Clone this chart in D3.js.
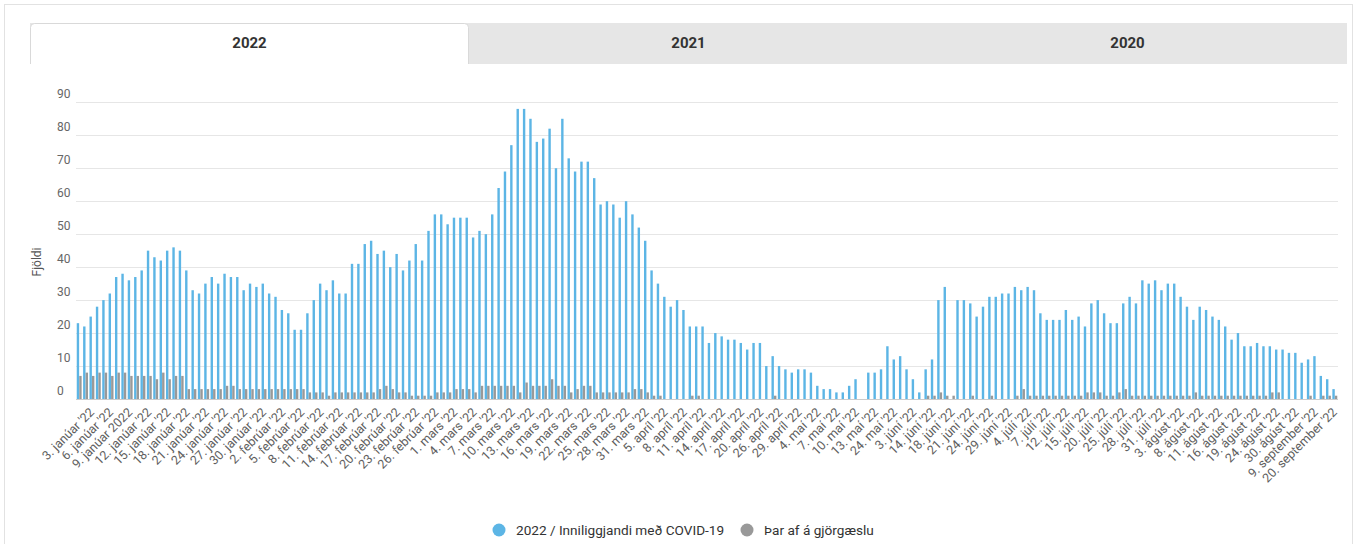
<!DOCTYPE html>
<html>
<head>
<meta charset="utf-8">
<script src="https://cdn.jsdelivr.net/npm/d3@7/dist/d3.min.js"></script>
<style>
  html, body { margin: 0; padding: 0; background: #fff; }
  svg { display: block; font-family: Roboto, "Noto Sans", sans-serif; }
</style>
</head>
<body>
<svg id="chart" width="1357" height="544"></svg>
<script>
// tabs shown above the chart
const tabs = ['2022', '2021', '2020'];
const seriesNames = ['2022 / Inniliggjandi með COVID-19', 'Þar af á gjörgæslu'];
const seriesColors = ['#5cb5e5', '#999999'];

// inpatients per day (null = no value that day)
const inpatients = [
  23, 22, 25, 28, 30, 32, 37, 38, 36, 37, 39, 45, 43, 42, 45, 46, 45,
  39, 33, 32, 35, 37, 35, 38, 37, 37, 33, 35, 34, 35, 32, 31, 27, 26, 21, 21,
  26, 30, 35, 33, 36, 32, 32, 41, 41, 47, 48, 44,
  45, 40, 44, 39, 42, 47, 42, 51, 56, 56, 53, 55, 55, 55, 49, 51, 50, 56, 64, 69,
  77, 88, 88, 85, 78, 79, 82, 70, 85, 73, 69, 72, 72, 67, 59, 60, 59, 55, 60, 56,
  52, 48, 39, 35, 31, 28, 30, 27, 22, 22, 22,
  17, 20, 19, 18, 18, 17, 15, 17, 17, 10, 13, 10, 9, 8, 9, 9, 8, 4, 3, 3,
  2, 2, 4, 6, null, 8, 8, 9, 16, 12, 13, 9, 6, 2, 9, 12, 30, 34, null, 30,
  30, 29, 25, 28, 31, 31, 32, 32, 34, 33, 34,
  33, 26, 24, 24, 24, 27, 24, 25, 22, 29, 30, 26, 23, 23, 29, 31, 29, 36, 35, 36,
  33, 35, 35, 31, 28, 24, 28, 27, 25, 24, 22, 18, 20, 16, 16, 17, 16, 16, 15, 15,
  14, 14, 11, 12, 13, 7, 6, 3
];

// of which in intensive care
const icu = [
  7, 8, 7, 8, 8, 7, 8, 8, 7, 7, 7, 7, 6, 8, 6, 7, 7,
  3, 3, 3, 3, 3, 3, 4, 4, 3, 3, 3, 3, 3, 3, 3, 3, 3, 3, 3,
  2, 2, 2, 1, 2, 2, 2, 2, 2, 2, 2, 3,
  4, 3, 2, 2, 1, 1, 1, 1, 2, 2, 2, 3, 3, 3, 2, 4, 4, 4,
  4, 4, 4, 2, 5, 4, 4, 4, 6, 4, 4, 2, 3, 4, 4, 2, 2, 2,
  2, 2, 2, 3, 3, 2, 1, 1, 0, 0, 0, 0, 1, 1, 0,
  0, 0, 0, 0, 0, 0, 0, 0, 0, 0, 1, 0, 0, 0, 0, 0, 0, 0, 0, 0,
  0, 0, 0, 0, 0, 0, 0, 0, 0, 0, 0, 0, 0, 0, 1, 1, 2, 1, 1, 0,
  0, 1, 0, 0, 1, 0, 0, 0, 1, 3, 1,
  1, 1, 1, 1, 1, 1, 1, 1, 2, 2, 2, 1, 1, 2, 3, 1, 1, 1, 1, 1,
  1, 1, 1, 1, 1, 2, 1, 1, 1, 1, 1, 1, 1, 1, 1, 1, 1, 2, 2, 0,
  0, 0, 0, 1, 0, 1, 1, 1
];

// one label every third day
const tickLabels = [
  "3. janúar '22", "6. janúar '22", '9. janúar 2022', "12. janúar '22", "15. janúar '22",
  "18. janúar '22", "21. janúar '22", "24. janúar '22", "27. janúar '22", "30. janúar '22",
  "2. febrúar '22", "5. febrúar '22", "8. febrúar '22", "11. febrúar '22", "14. febrúar '22",
  "17. febrúar '22", "20. febrúar '22", "23. febrúar '22", "26. febrúar '22",
  "1. mars '22", "4. mars '22", "7. mars '22", "10. mars '22", "13. mars '22", "16. mars '22",
  "19. mars '22", "22. mars '22", "25. mars '22", "28. mars '22", "31. mars '22",
  "5. apríl '22", "8. apríl '22", "11. apríl '22", "14. apríl '22", "17. apríl '22",
  "20. apríl '22", "26. apríl '22", "29. apríl '22",
  "4. maí '22", "7. maí '22", "10. maí '22", "13. maí '22", "24. maí '22",
  "3. júní '22", "14. júní '22", "18. júní '22", "21. júní '22", "24. júní '22", "29. júní '22",
  "4. júlí '22", "7. júlí '22", "12. júlí '22", "15. júlí '22", "20. júlí '22", "25. júlí '22",
  "28. júlí '22", "31. júlí '22",
  "3. ágúst '22", "8. ágúst '22", "11. ágúst '22", "16. ágúst '22", "19. ágúst '22",
  "24. ágúst '22", "30. ágúst '22",
  "9. september '22", "20. september '22"
];

const yTicks = [0, 10, 20, 30, 40, 50, 60, 70, 80, 90];

const svg = d3.select('#chart');

// card + tabs
svg.append('rect')
  .attr('x', 4.5).attr('y', 4.5).attr('width', 1348).attr('height', 560)
  .attr('fill', '#fff').attr('stroke', '#e2e2e2');

const tabX = d3.scaleBand().domain(tabs).range([30, 1347]);
svg.append('rect')
  .attr('x', 30).attr('y', 23).attr('width', 1317).attr('height', 41)
  .attr('fill', '#e6e6e6');

const t0 = tabX(tabs[0]), tw = tabX.bandwidth();
svg.append('path')
  .attr('d', `M${t0 + 0.5},64 V27.5 Q${t0 + 0.5},23.5 ${t0 + 4.5},23.5 H${t0 + tw - 4.5} Q${t0 + tw - 0.5},23.5 ${t0 + tw - 0.5},27.5 V64`)
  .attr('fill', '#fff').attr('stroke', '#d9d9d9');

svg.append('g').selectAll('text')
  .data(tabs)
  .join('text')
  .attr('x', d => tabX(d) + tw / 2)
  .attr('y', 48)
  .attr('text-anchor', 'middle')
  .attr('font-size', 15)
  .attr('font-weight', 'bold')
  .attr('fill', '#333')
  .text(d => d);

// scales
const x = d3.scaleBand()
  .domain(d3.range(inpatients.length))
  .range([76, 1338])
  .paddingInner(0.2)
  .paddingOuter(0.1);

const xs = d3.scaleBand()
  .domain([0, 1])
  .range([0, x.bandwidth()])
  .padding(0.04);

const y = d3.scaleLinear().domain([0, 90]).range([399, 102.3]);

// grid
svg.append('g').selectAll('line')
  .data(yTicks.slice(1))
  .join('line')
  .attr('x1', 76).attr('x2', 1338)
  .attr('y1', d => Math.round(y(d)) + 0.5)
  .attr('y2', d => Math.round(y(d)) + 0.5)
  .attr('stroke', '#e6e6e6');

svg.append('g').selectAll('text')
  .data(yTicks)
  .join('text')
  .attr('x', 57)
  .attr('y', d => y(d) - 4)
  .attr('font-size', 12)
  .attr('fill', '#666')
  .text(d => d);

svg.append('text')
  .attr('transform', 'translate(41,262) rotate(-90)')
  .attr('text-anchor', 'middle')
  .attr('font-size', 12)
  .attr('fill', '#555')
  .text('Fjöldi');

// bars
const rows = inpatients.map((v, i) => ({ i, vals: [v, icu[i]] }));
const bars = svg.append('g');
[0, 1].forEach(s => {
  bars.append('g').selectAll('rect')
    .data(rows.filter(r => r.vals[s] != null && r.vals[s] > 0))
    .join('rect')
    .attr('x', r => x(r.i) + xs(s))
    .attr('width', xs.bandwidth())
    .attr('y', r => y(r.vals[s]))
    .attr('height', r => y(0) - y(r.vals[s]))
    .attr('fill', seriesColors[s]);
});

// x axis line
svg.append('line')
  .attr('x1', 76).attr('x2', 1338)
  .attr('y1', 399.5).attr('y2', 399.5)
  .attr('stroke', '#ccc');

svg.append('g').selectAll('text')
  .data(tickLabels)
  .join('text')
  .attr('transform', (d, k) => {
    const cx = x(2 + k * 3) + x.bandwidth() / 2 + 3;
    return `translate(${cx},413) rotate(-45)`;
  })
  .attr('text-anchor', 'end')
  .attr('font-size', 12.5)
  .attr('fill', '#5e5e5e')
  .text(d => d);

// legend
const legend = svg.append('g').attr('transform', 'translate(499,530)');
const items = [{ name: seriesNames[0], color: seriesColors[0], x: 0 },
               { name: seriesNames[1], color: seriesColors[1], x: 248 }];
items.forEach(it => {
  const g = legend.append('g').attr('transform', `translate(${it.x},0)`);
  g.append('circle').attr('r', 6.5).attr('fill', it.color);
  g.append('text').attr('x', 17).attr('y', 4.5)
    .attr('font-size', 13.6).attr('fill', '#333').text(it.name);
});
</script>
</body>
</html>
